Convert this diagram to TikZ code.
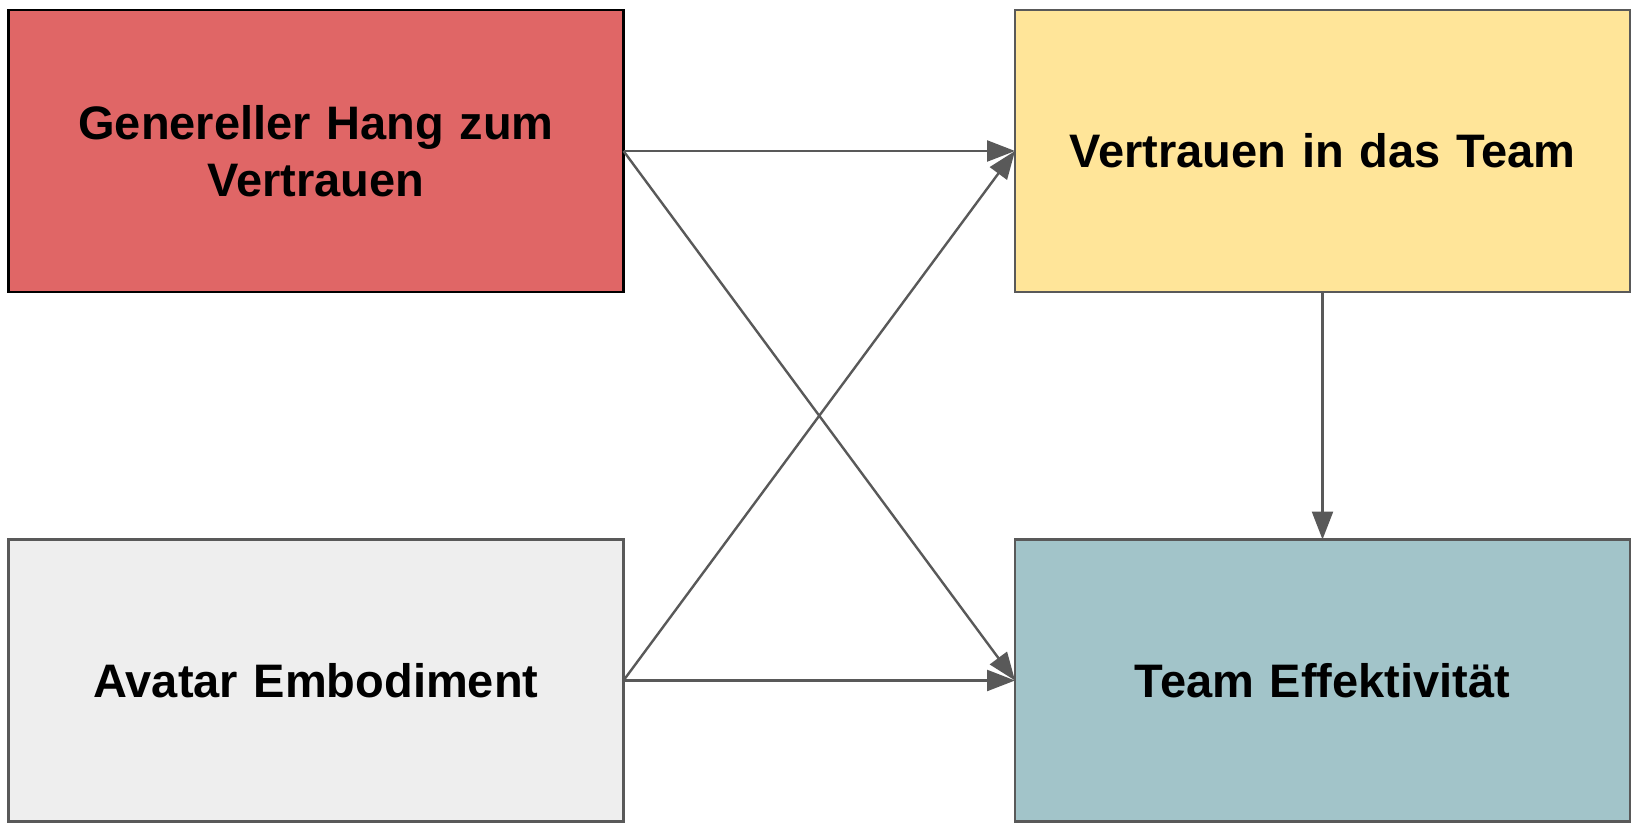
\documentclass[tikz,border=0pt]{standalone}
\usepackage{fontspec}
\setmainfont{Liberation Sans}
\usetikzlibrary{arrows.meta}
\definecolor{cred}{HTML}{E06666}
\definecolor{cyel}{HTML}{FFE599}
\definecolor{cgray}{HTML}{EEEEEE}
\definecolor{cteal}{HTML}{A2C4C9}
\definecolor{cline}{HTML}{595959}
\tikzset{
  box/.style={draw=cline, line width=2.4pt, minimum width=615pt, minimum height=282pt, inner sep=0pt, outer sep=0pt,
    align=center, font=\fontsize{47}{56.5}\selectfont\bfseries, text width=580pt},
  conn/.style={draw=cline, line width=2.4pt, -{Triangle[length=28pt,width=21pt]}}
}
\begin{document}
\begin{tikzpicture}[x=1pt,y=-1pt]
\useasboundingbox (0,0) rectangle (1642,834);
\node[box, fill=cred, draw=black] (g) at (316,151) {Genereller Hang zum\\Vertrauen};
\node[box, fill=cyel] (v) at (1322.5,151) {Vertrauen in das Team};
\node[box, fill=cgray] (a) at (316,680.5) {Avatar Embodiment};
\node[box, fill=cteal] (t) at (1322.5,680.5) {Team Effektivität};
\draw[conn] (g.east) -- (v.west);
\draw[conn] (g.east) -- (t.west);
\draw[conn] (a.east) -- (v.west);
\draw[conn] (a.east) -- (t.west);
\draw[conn] (v.south) -- (t.north);
\end{tikzpicture}
\end{document}
